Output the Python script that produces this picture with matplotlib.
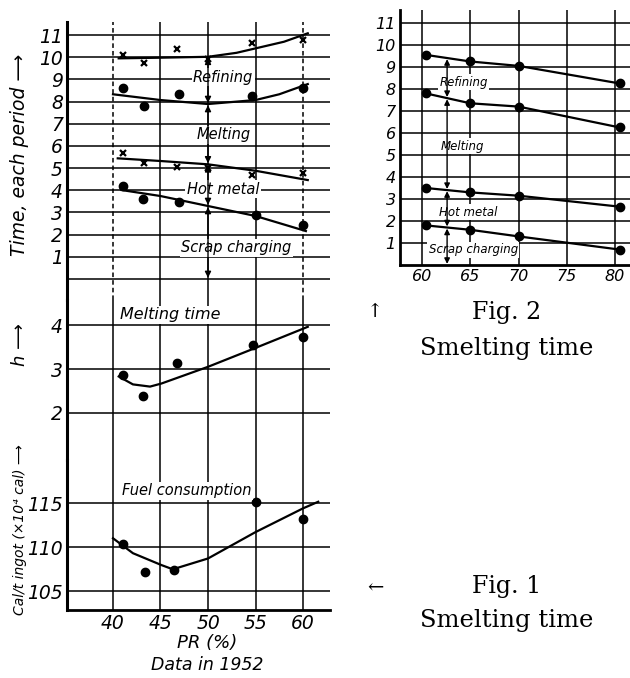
import numpy as np
import matplotlib
matplotlib.use("Agg")
import matplotlib.pyplot as plt

# ---- Fig. 1 data (PR %, 1952) ----
pr_pts = [41.1, 43.3, 46.7, 50.0, 54.6, 60.0]
refining_top_pts = [10.1, 9.75, 10.35, 9.9, 10.65, 10.8]      # x marks
melting_top_pts_x = [41.1, 43.3, 46.9, 54.6, 60.0]
melting_top_pts = [8.6, 7.8, 8.35, 8.27, 8.6]                  # dots
hotmetal_top_pts = [5.67, 5.25, 5.05, 5.0, 4.7, 4.8]           # x marks
scrap_top_pts_x = [41.1, 43.2, 46.9, 55.0, 60.0]
scrap_top_pts = [4.2, 3.6, 3.45, 2.9, 2.45]                    # dots

# fitted curves
ref_cx = [40.6, 45, 50, 53, 55, 58, 60.5]
ref_cy = [9.95, 9.98, 10.02, 10.2, 10.4, 10.7, 11.08]
mel_cx = [40, 42.5, 45, 50, 55, 57.5, 60.5]
mel_cy = [8.33, 8.2, 8.07, 7.89, 8.07, 8.33, 8.79]
hot_cx = [40.5, 45, 50, 55, 60.5]
hot_cy = [5.44, 5.32, 5.17, 4.88, 4.46]
scr_cx = [40.9, 45, 50, 55, 60.3]
scr_cy = [4.01, 3.74, 3.29, 2.84, 2.16]

# melting time (h)
mt_x = [41.1, 43.2, 46.7, 54.7, 60.0]
mt_y = [2.86, 2.39, 3.14, 3.55, 3.73]
mt_cx = [40.6, 42.1, 43.9, 45.1, 50, 55, 60.5]
mt_cy = [2.83, 2.65, 2.6, 2.67, 3.05, 3.48, 3.96]

# fuel consumption (x10^4 cal per t ingot)
fc_x = [41.1, 43.4, 46.4, 55.0, 60.0]
fc_y = [110.3, 107.2, 107.4, 115.1, 113.2]
fc_cx = [40, 42.1, 45.1, 46.3, 50, 55, 60, 61.6]
fc_cy = [111.0, 109.3, 107.95, 107.47, 108.7, 111.7, 114.4, 115.15]

# ---- Fig. 2 data ----
f2_x = [60.4, 65, 70, 80.5]
f2_refining = [9.55, 9.25, 9.05, 8.25]
f2_melting = [7.8, 7.35, 7.2, 6.25]
f2_hotmetal = [3.5, 3.3, 3.15, 2.65]
f2_scrap = [1.8, 1.6, 1.3, 0.7]

W, H = 630, 678
plt.rcParams['font.family'] = 'DejaVu Sans'
fig = plt.figure(figsize=(W / 100, H / 100), dpi=100)
fig.patch.set_facecolor('white')


def box(x0, y0, x1, y1):
    # pixel box (top-left origin) -> figure fraction rect
    return [x0 / W, 1 - y1 / H, (x1 - x0) / W, (y1 - y0) / H]


def style(ax, lw_left=2.2, bottom=False):
    for s in ['top', 'right']:
        ax.spines[s].set_visible(False)
    ax.spines['bottom'].set_visible(bottom)
    ax.spines['bottom'].set_linewidth(2.0)
    ax.spines['left'].set_linewidth(lw_left)
    ax.tick_params(length=0, labelsize=13.5, pad=3)
    ax.grid(axis='y', color='black', lw=1.1)
    ax.set_axisbelow(True)
    for lab in ax.get_yticklabels() + ax.get_xticklabels():
        lab.set_fontstyle('italic')


lab_kw = dict(fontstyle='italic', ha='center', va='center',
              bbox=dict(facecolor='white', edgecolor='none', pad=1.0))

# ---------- Fig 1 top: time of each period ----------
ax_t = fig.add_axes(box(67, 22, 330, 300))
ax_t.set_xlim(35.16, 62.84)
ax_t.set_ylim(-0.95, 11.59)
ax_t.set_yticks(range(0, 12))
ax_t.set_yticklabels([''] + [str(v) for v in range(1, 12)])
ax_t.set_xticks([])
style(ax_t)
for xv in [40, 45, 50, 55, 60]:
    ax_t.axvline(xv, color='black', lw=1.1, ls=(0, (3, 2)) if xv in (40, 60) else '-', zorder=1)

ax_t.plot(ref_cx, ref_cy, color='black', lw=1.6)
ax_t.plot(mel_cx, mel_cy, color='black', lw=1.6)
ax_t.plot(hot_cx, hot_cy, color='black', lw=1.6)
ax_t.plot(scr_cx, scr_cy, color='black', lw=1.6)
ax_t.plot(pr_pts, refining_top_pts, 'x', color='black', ms=5, mew=1.6)
ax_t.plot(pr_pts, hotmetal_top_pts, 'x', color='black', ms=5, mew=1.6)
ax_t.plot(melting_top_pts_x, melting_top_pts, 'o', color='black', ms=6)
ax_t.plot(scrap_top_pts_x, scrap_top_pts, 'o', color='black', ms=6)

ax_t.text(51.6, 9.1, 'Refining', fontsize=10.5, **lab_kw)
ax_t.text(51.6, 6.5, 'Melting', fontsize=10.5, **lab_kw)
ax_t.text(51.6, 4.05, 'Hot metal', fontsize=10.5, **lab_kw)
ax_t.text(53.0, 1.4, 'Scrap charging', fontsize=10.5, **lab_kw)

# span arrows at PR = 50
b1 = [np.interp(50, ref_cx, ref_cy), np.interp(50, mel_cx, mel_cy),
      np.interp(50, hot_cx, hot_cy), np.interp(50, scr_cx, scr_cy), 0.0]
for top, bot in zip(b1[:-1], b1[1:]):
    mid = (top + bot) / 2
    for tip in (top - 0.05, bot + 0.05):
        ax_t.annotate('', xy=(50, tip), xytext=(50, mid),
                      arrowprops=dict(arrowstyle='-|>', color='black', lw=1.0,
                                      mutation_scale=9, shrinkA=0, shrinkB=0))

# ---------- Fig 1 middle: melting time ----------
ax_m = fig.add_axes(box(67, 300, 330, 460))
ax_m.set_xlim(35.16, 62.84)
ax_m.set_ylim(0.93, 4.57)
ax_m.set_yticks([2, 3, 4])
ax_m.set_xticks([])
style(ax_m)
for xv in [40, 45, 50, 55, 60]:
    ax_m.axvline(xv, color='black', lw=1.1, zorder=1)
ax_m.plot(mt_cx, mt_cy, color='black', lw=1.6)
ax_m.plot(mt_x, mt_y, 'o', color='black', ms=6)
ax_m.text(46.0, 4.23, 'Melting time', fontsize=11.5, **lab_kw)

# ---------- Fig 1 bottom: fuel consumption ----------
ax_b = fig.add_axes(box(67, 460, 330, 610))
ax_b.set_xlim(35.16, 62.84)
ax_b.set_ylim(102.84, 119.9)
ax_b.set_yticks([105, 110, 115])
ax_b.set_xticks([40, 45, 50, 55, 60])
style(ax_b, bottom=True)
for xv in [40, 45, 50, 55, 60]:
    ax_b.axvline(xv, color='black', lw=1.1, zorder=1)
ax_b.plot(fc_cx, fc_cy, color='black', lw=1.6)
ax_b.plot(fc_x, fc_y, 'o', color='black', ms=6)
ax_b.text(47.8, 116.4, 'Fuel consumption', fontsize=10.5, **lab_kw)

fig.text(207 / W, 1 - 643 / H, 'PR (%)', fontsize=13, fontstyle='italic', ha='center', va='center')
fig.text(207 / W, 1 - 665 / H, 'Data in 1952', fontsize=12.5, fontstyle='italic', ha='center', va='center')

fig.text(20 / W, 1 - 155 / H, 'Time, each period \u27f6', rotation=90, fontsize=13.5,
         fontstyle='italic', ha='center', va='center')
fig.text(20 / W, 1 - 345 / H, 'h \u27f6', rotation=90, fontsize=13,
         fontstyle='italic', ha='center', va='center')
fig.text(20 / W, 1 - 530 / H, 'Cal/t ingot (\u00d710\u2074 cal) \u27f6', rotation=90, fontsize=10,
         fontstyle='italic', ha='center', va='center')

# ---------- Fig 2 ----------
ax2 = fig.add_axes(box(400, 10, 630, 265))
ax2.set_xlim(57.72, 81.55)
ax2.set_ylim(0, 11.59)
ax2.set_yticks(range(1, 12))
ax2.set_xticks([60, 65, 70, 75, 80])
style(ax2, lw_left=2.0, bottom=True)
ax2.tick_params(labelsize=11.5)
for lab in ax2.get_yticklabels() + ax2.get_xticklabels():
    lab.set_fontstyle('italic')
for xv in [60, 65, 70, 75, 80]:
    ax2.axvline(xv, color='black', lw=1.1, zorder=1)
for series in [f2_refining, f2_melting, f2_hotmetal, f2_scrap]:
    ax2.plot(f2_x, series, '-o', color='black', lw=1.6, ms=6)

ax2.text(64.3, 8.3, 'Refining', fontsize=8.5, **lab_kw)
ax2.text(64.2, 5.4, 'Melting', fontsize=8.5, **lab_kw)
ax2.text(64.8, 2.4, 'Hot metal', fontsize=8.5, **lab_kw)
ax2.text(65.3, 0.7, 'Scrap charging', fontsize=8.5, **lab_kw)

xa = 62.6
b2 = [np.interp(xa, f2_x, f2_refining), np.interp(xa, f2_x, f2_melting),
      np.interp(xa, f2_x, f2_hotmetal), np.interp(xa, f2_x, f2_scrap), 0.0]
for top, bot in zip(b2[:-1], b2[1:]):
    mid = (top + bot) / 2
    for tip in (top - 0.05, bot + 0.05):
        ax2.annotate('', xy=(xa, tip), xytext=(xa, mid),
                     arrowprops=dict(arrowstyle='-|>', color='black', lw=1.0,
                                     mutation_scale=8, shrinkA=0, shrinkB=0))

# captions
cap = dict(family='DejaVu Serif', ha='center', va='center')
fig.text(507 / W, 1 - 312 / H, 'Fig. 2', fontsize=17, **cap)
fig.text(375 / W, 1 - 312 / H, '\u2191', fontsize=14, **cap)
fig.text(507 / W, 1 - 348 / H, 'Smelting time', fontsize=17.5, **cap)
fig.text(507 / W, 1 - 587 / H, 'Fig. 1', fontsize=17, **cap)
fig.text(375 / W, 1 - 587 / H, '\u2190', fontsize=14, **cap)
fig.text(507 / W, 1 - 620 / H, 'Smelting time', fontsize=17.5, **cap)

fig.savefig('out.png', dpi=100, facecolor='white')
